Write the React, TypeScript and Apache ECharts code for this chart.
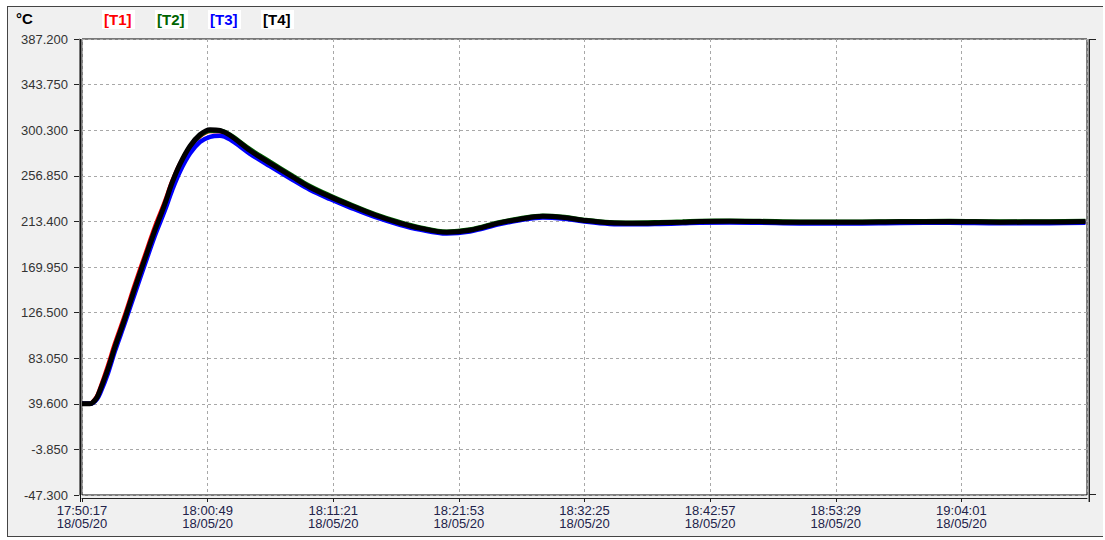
import React, { useEffect, useRef } from "react";
import * as echarts from "echarts";

// Recorder start time and date shown under every time tick
const startClock = "17:50:17";
const dateLabel = "18/05/20";

// Channel names and pen colours
const channelNames = ["[T1]", "[T2]", "[T3]", "[T4]"];
const channelColors = ["#ff0000", "#006400", "#0000ff", "#000000"];

// Axis ranges (°C and elapsed seconds)
const yMin = -47.3;
const yMax = 387.2;
const yStep = 43.45;
const xMin = 0;
const xMax = 5056;
const xStep = 632;

// Sample instants, seconds after start
const elapsedSec = [
  0, 40, 55, 75, 91, 131, 166, 216, 266, 317, 367, 417, 453, 493, 543, 593,
  644, 694, 744, 845, 945, 1061, 1146, 1247, 1347, 1473, 1599, 1699, 1835,
  1951, 2102, 2202, 2318, 2428, 2519, 2655, 2770, 2906, 3022, 3107, 3258,
  3409, 3610, 3862, 4113, 4364, 4616, 4867, 5048,
];

// Temperatures (°C)
const t1 = [
  39.6, 39.6, 41.5, 46.5, 54, 76, 97, 124, 153, 181, 208, 232, 251, 268, 284,
  294.5, 299.5, 299.2, 294.8, 280.5, 268.5, 255, 245.5, 236.5, 228.5, 219,
  211.4, 206.6, 202.7, 204.7, 211.7, 215.2, 218, 216.7, 214.2, 211.8, 211.3,
  211.8, 212.3, 213, 213.2, 212.9, 212.3, 212.2, 212.7, 212.9, 212.4, 212.5,
  212.9,
];
const t2 = [
  39.6, 39.6, 40.8, 45, 51.5, 72, 93, 120, 149, 177, 204, 229, 249, 267, 284,
  295, 299.7, 299.8, 296, 282.2, 270.3, 256.8, 247.2, 238.1, 230, 220.4,
  212.6, 207.7, 203.6, 205.6, 212.6, 216.1, 218.9, 217.6, 215.1, 212.6, 212.2,
  212.6, 213.2, 213.9, 214, 213.7, 213.1, 213, 213.5, 213.7, 213.2, 213.3,
  213.7,
];
const t3 = [
  39.6, 39.6, 40.5, 44, 49.5, 69, 90, 117, 145, 173, 200, 224, 243, 261, 278,
  289, 294, 295, 291.5, 277.8, 266, 252.8, 243.5, 234.7, 226.8, 217.6, 210.2,
  205.6, 201.8, 203.8, 210.8, 214.4, 217.2, 215.9, 213.5, 211, 210.6, 211,
  211.6, 212.2, 212.4, 212.1, 211.5, 211.4, 211.9, 212.1, 211.6, 211.7, 212.1,
];
const t4 = [
  39.6, 39.6, 41, 45.5, 52.5, 73, 94, 121, 150, 178, 205, 230, 250, 268, 285,
  296, 300.8, 300, 295.5, 281, 269, 255.5, 246, 237, 229, 219.5, 211.8, 207,
  203, 205, 212, 215.5, 218.3, 217, 214.5, 212, 211.6, 212, 212.6, 213.3,
  213.5, 213.2, 212.6, 212.5, 213, 213.2, 212.7, 212.8, 213.2,
];
const channelValues = [t1, t2, t3, t4];

const FONT = '"Liberation Sans", Arial, sans-serif';

function clockAt(sec: number): string {
  const [h, m, s] = startClock.split(":").map(Number);
  const total = h * 3600 + m * 60 + s + Math.round(sec);
  const pad = (n: number) => String(n).padStart(2, "0");
  return `${pad(Math.floor(total / 3600) % 24)}:${pad(Math.floor(total / 60) % 60)}:${pad(total % 60)}`;
}

export default function App() {
  const ref = useRef<HTMLDivElement>(null);

  useEffect(() => {
    if (!ref.current) return;
    const chart = echarts.init(ref.current, null, { renderer: "svg" });

    const gridLeft = 82;
    const gridTop = 39;
    const gridW = 1005;
    const gridH = 456;
    const right = gridLeft + gridW;
    const bottom = gridTop + gridH;

    const legendX = [104, 157, 210, 263];
    const graphic: any[] = [
      {
        type: "text",
        left: 16,
        top: 11,
        style: { text: "°C", fill: "#000", font: `bold 15px ${FONT}` },
      },
    ];
    channelNames.forEach((name, i) => {
      graphic.push({
        type: "rect",
        shape: { x: legendX[i] - 2, y: 10, width: 33, height: 19 },
        style: { fill: "#ffffff" },
      });
      graphic.push({
        type: "text",
        x: legendX[i],
        y: 19.5,
        style: {
          text: name,
          fill: channelColors[i],
          font: `bold 15px ${FONT}`,
          textVerticalAlign: "middle",
        },
      });
    });
    // raised frame on the right side of the plot
    graphic.push(
      {
        type: "line",
        shape: { x1: right + 1.5, y1: gridTop, x2: right + 1.5, y2: bottom + 7 },
        style: { stroke: "#999", lineWidth: 1 },
      },
      {
        type: "line",
        shape: { x1: right + 2.5, y1: gridTop, x2: right + 2.5, y2: bottom + 7 },
        style: { stroke: "#222", lineWidth: 1 },
      },
      {
        type: "line",
        shape: { x1: right + 2.5, y1: gridTop + 0.5, x2: right + 9, y2: gridTop + 0.5 },
        style: { stroke: "#222", lineWidth: 1 },
      },
      {
        type: "line",
        shape: { x1: right + 2.5, y1: bottom - 0.5, x2: right + 9, y2: bottom - 0.5 },
        style: { stroke: "#222", lineWidth: 1 },
      },
      {
        type: "line",
        shape: { x1: gridLeft - 1.5, y1: gridTop, x2: gridLeft - 1.5, y2: bottom + 7 },
        style: { stroke: "#111", lineWidth: 1 },
      }
    );

    chart.setOption({
      animation: false,
      backgroundColor: "transparent",
      grid: {
        left: gridLeft,
        top: gridTop,
        width: gridW,
        height: gridH,
        show: true,
        backgroundColor: "#ffffff",
        borderColor: "#000",
        borderWidth: 1,
      },
      xAxis: {
        type: "value",
        min: xMin,
        max: xMax,
        interval: xStep,
        offset: 3,
        axisLine: { show: true, onZero: false, lineStyle: { color: "#222", width: 1 } },
        axisTick: { show: true, length: 4, lineStyle: { color: "#222" } },
        axisLabel: {
          showMaxLabel: false,
          showMinLabel: true,
          margin: 6,
          color: "#22224a",
          fontFamily: FONT,
          fontSize: 13,
          lineHeight: 13,
          formatter: (v: number) => `${clockAt(v)}\n${dateLabel}`,
        },
        splitLine: { show: true, lineStyle: { color: "#a8a8a8", type: [3, 3], width: 1 } },
      },
      yAxis: {
        type: "value",
        min: yMin,
        max: yMax,
        interval: yStep,
        offset: 3,
        axisLine: { show: true, onZero: false, lineStyle: { color: "#777", width: 1 } },
        axisTick: { show: true, length: 5, lineStyle: { color: "#222" } },
        axisLabel: {
          margin: 11,
          color: "#333",
          fontFamily: FONT,
          fontSize: 13,
          formatter: (v: number) => v.toFixed(3),
        },
        splitLine: { show: true, lineStyle: { color: "#a8a8a8", type: [3, 3], width: 1 } },
      },
      series: channelNames.map((name, i) => ({
        name,
        type: "line",
        showSymbol: false,
        smooth: 0.35,
        silent: true,
        z: 3 + i,
        lineStyle: { color: channelColors[i], width: i === 3 ? 5 : 4.5 },
        data: elapsedSec.map((t, k) => [t, channelValues[i][k]]),
      })),
      graphic,
    });

    return () => chart.dispose();
  }, []);

  return (
    <div style={{ position: "fixed", left: 0, top: 0, width: 1105, height: 540, background: "#ffffff" }}>
      <div
        style={{
          position: "absolute",
          left: 7,
          top: 6,
          width: 1096,
          height: 531,
          boxSizing: "border-box",
          border: "1px solid #444",
          borderRight: "none",
          background: "#f0f0f0",
        }}
      />
      <div ref={ref} style={{ position: "absolute", left: 0, top: 0, width: 1105, height: 540 }} />
    </div>
  );
}
